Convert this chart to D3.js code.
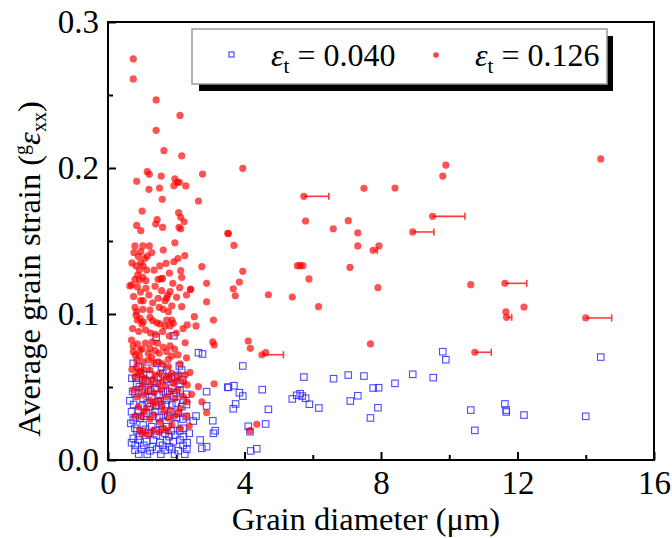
<!DOCTYPE html>
<html><head><meta charset="utf-8">
<script src="https://cdn.jsdelivr.net/npm/d3@7"></script>
<style>body{margin:0;background:#fff;} svg{display:block;}</style>
</head><body>
<svg id="chart" width="672" height="538"></svg>
<script>
// ---- data ----
const xTicks = [0, 4, 8, 12, 16];
const yTicks = [0.0, 0.1, 0.2, 0.3];
const legendLabels = ["0.040", "0.126"];

const bluePoints = [
 [3.95,.0644],[3.53,.0498],[3.69,.0509],[3.85,.0461],[3.95,.0438],[4.52,.0482],[3.74,.0384],[3.67,.0351],[4.70,.0347],
 [4.62,.0247],[4.11,.0231],[4.16,.0194],[4.18,.0062],[4.36,.0077],[5.74,.0568],[5.40,.0418],[5.53,.0443],[5.63,.0454],
 [5.69,.0438],[5.79,.0423],[5.90,.0382],[6.18,.0356],[6.61,.0557],[7.04,.0582],[7.50,.0575],[7.10,.0404],[7.32,.0440],
 [7.77,.0493],[7.93,.0495],[7.91,.0358],[7.69,.0288],[8.41,.0525],[8.93,.0587],[9.53,.0564],[9.81,.0742],[9.90,.0687],
 [10.63,.0342],[10.75,.0203],[11.63,.0384],[11.67,.0342],[11.67,.0329],[12.19,.0308],[14.0,.0299],[14.44,.0705],
 [1.41,.084],[1.93,.0851],[2.65,.0735],[2.77,.0726],[.74,.0662],[.89,.0639],[1.13,.0628],[1.43,.0662],[1.57,.0639],[1.72,.0616],
 [2.09,.0644],[2.16,.0616],[.82,.056],[1.02,.0548],[1.23,.0582],[1.47,.0566],[1.72,.0553],[1.96,.0571],[2.19,.0548],[3.51,.0498],
 [.92,.0502],[1.18,.0479],[1.38,.0491],[1.62,.0468],[1.87,.0491],[2.11,.0475],[2.89,.0468],
 [.64,.0406],[.79,.0457],[1.03,.0423],[1.28,.0434],[1.47,.0399],[1.72,.0411],[1.93,.0434],[2.21,.0411],[2.89,.037],
 [.69,.0331],[.89,.0342],[1.13,.032],[1.38,.0331],[1.62,.0308],[1.84,.0331],[2.06,.032],[2.29,.0297],
 [2.58,.0301],[2.50,.0267],[3.07,.0269],[.67,.0251],[.79,.0217],[1.03,.024],[1.28,.0228],[1.52,.0251],[1.72,.0228],[1.96,.0247],[2.21,.0217],
 [3.14,.0201],[3.09,.0183],[2.70,.0137],[2.75,.008],[2.89,.0091],
 [.69,.0119],[.89,.0137],[1.13,.0126],[1.33,.0137],[1.52,.0119],[1.72,.0132],[1.91,.0126],[2.11,.0137],[2.32,.0119],
 [.79,.0068],[.99,.0073],[1.23,.0064],[1.43,.0073],[1.67,.0068],[1.87,.0073],[2.06,.0064],[2.31,.0073],
 [.74,.0148],[.92,.0164],[1.18,.0183],[1.42,.0171],[1.67,.0183],[1.79,.016],[1.96,.0171],[2.21,.016],[2.38,.0183],
 [.74,.0274],[.94,.0286],[1.23,.0365],[1.57,.0377],[1.87,.0377],[2.16,.0365],[.84,.0525],[1.43,.0525],[2.11,.0525],
 [.70,.0560],[.95,.0590],[1.10,.0540],[1.35,.0540],[1.60,.0590],[1.85,.0560],[2.05,.0580],
 [.72,.0470],[1.00,.0480],[1.25,.0470],[1.50,.0450],[1.75,.0470],[2.00,.0460],[2.30,.0450],
 [.75,.0380],[1.00,.0370],[1.15,.0390],[1.40,.0370],[1.70,.0380],[2.00,.0390],[2.30,.0380],
 [.80,.0290],[1.05,.0300],[1.30,.0300],[1.50,.0290],[1.75,.0300],[2.00,.0290],[2.20,.0280],
 [.85,.0200],[1.10,.0210],[1.40,.0200],[1.60,.0210],[1.85,.0200],[2.10,.0200],
 [.80,.0100],[1.05,.0100],[1.30,.0090],[1.60,.0100],[1.80,.0090],[2.20,.0100],
 [.90,.0040],[1.15,.0040],[1.55,.0040],[1.95,.0040],[2.25,.0040]
];

const redPoints = [
 [.74,.2747],[.74,.261],[1.41,.2466],[2.11,.236],[1.41,.2258],[1.64,.2119],[2.16,.2084],[1.15,.1975],[1.21,.1957],[1.56,.1945],
 [2.77,.1959],[.84,.1909],[1.96,.1925],[2.03,.1902],[2.09,.1902],[1.93,.1879],[2.28,.1877],[1.20,.1854],[1.51,.1863],[1.59,.1786],
 [2.65,.1774],[1.00,.1705],[2.07,.1694],[2.13,.1662],[2.23,.1632],[.84,.1607],[1.44,.1646],[1.40,.1616],[1.60,.1594],[.96,.1571],
 [2.08,.1594],[2.13,.1584],[3.51,.1553],
 [.79,.1466],[1.02,.1466],[1.21,.1466],[1.96,.1488],[.76,.142],[.96,.1427],[.89,.1393],[1.15,.1397],[1.62,.1438],
 [.96,.1351],[1.03,.1329],[1.13,.1301],[.92,.1301],[1.70,.1347],[1.93,.1358],[2.13,.1297],[2.75,.1324],
 [.87,.1267],[1.02,.1251],[.79,.1238],[1.11,.1228],[.92,.1233],[1.47,.1238],[1.60,.1244],[1.90,.121],[2.16,.1251],[2.89,.121],
 [.69,.1199],[.64,.1192],[.86,.1187],[1.11,.1176],[1.57,.116],[1.75,.113],[1.72,.1108],[1.67,.1091],[1.82,.1153],[2.01,.1114],
 [2.42,.1169],[2.42,.1169],[2.89,.1084],[1.03,.1091],[.96,.1091],[1.31,.1077],[1.47,.1108],
 [.79,.1046],[.84,.1016],[1.02,.1032],[1.23,.1027],[1.50,.1046],[1.62,.1032],[1.77,.1016],[1.87,.1055],[2.16,.105],
 [.82,.0993],[.94,.0971],[1.03,.0947],[.86,.0959],[.99,.0932],[1.23,.0977],[1.31,.0954],[1.43,.094],[1.52,.0932],[1.67,.0918],
 [1.82,.0918],[1.91,.0936],[2.53,.0982],[2.32,.0925],[2.58,.0918],[3.09,.0959],[1.72,.0959],[1.87,.0959],
 [.69,.0822],[.74,.0781],[.86,.0795],[.94,.0753],[.92,.0712],[.74,.0742],[.84,.0685],
 [1.23,.0765],[1.38,.0749],[1.50,.0731],[1.18,.0731],[1.28,.0703],[1.62,.0772],[1.82,.0781],[1.72,.0742],[1.87,.0712],[1.77,.069],
 [2.26,.0803],[3.07,.081],[3.11,.0788],
 [1.02,.0673],[1.18,.0685],[1.35,.0662],[1.47,.0673],[1.60,.0658],[1.77,.0639],[2.11,.0658],
 [.84,.0639],[.94,.0605],[.79,.0571],[.99,.0571],
 [1.23,.0616],[1.38,.0582],[1.52,.0594],[1.72,.0571],[1.87,.0594],[2.06,.0575],[2.26,.0582],
 [1.03,.0525],[1.23,.0514],[1.47,.0521],[1.67,.0507],[1.91,.0525],[2.21,.0536],[2.32,.0514],[2.65,.0502],[3.11,.0521],
 [.84,.0434],[1.03,.0445],[1.23,.0411],[1.38,.0399],[1.52,.0411],[1.72,.0434],[1.96,.0422],[2.21,.0434],[2.32,.0399],[2.75,.0399],
 [.89,.0365],[1.13,.0354],[1.33,.0377],[1.57,.0365],[1.82,.0342],[2.11,.0354],[2.89,.0324],
 [.99,.0297],[1.23,.0279],[1.52,.0262],[1.77,.0286],[2.06,.032],
 [.92,.0205],[1.08,.0194],[1.33,.0205],[1.62,.0217],[1.87,.024],[2.11,.0217],[2.38,.0233],
 [.70,.1350],[.82,.1330],[1.08,.1380],[1.28,.1420],[1.35,.1300],[1.52,.1330],[1.80,.1280],[2.25,.1400],[2.05,.1380],
 [.75,.1120],[.95,.1150],[1.20,.1130],[1.38,.1190],[1.55,.1240],[2.10,.1180],[2.30,.1130],
 [.72,.0900],[.90,.0880],[1.10,.0890],[1.25,.0870],[1.40,.0860],[1.60,.0880],[1.80,.0850],[2.00,.0870],[2.20,.0900],
 [.80,.0720],[1.00,.0760],[1.10,.0800],[1.30,.0810],[1.45,.0800],[1.95,.0760],[2.05,.0720],[2.30,.0700],
 [.70,.0620],[.88,.0600],[1.05,.0620],[1.10,.0560],[1.30,.0550],[1.60,.0540],[1.80,.0560],[2.00,.0540],[2.40,.0600],
 [.75,.0480],[.95,.0490],[1.15,.0470],[1.35,.0460],[1.55,.0480],[1.85,.0470],[2.05,.0480],[2.45,.0450],
 [.80,.0300],[1.05,.0330],[1.35,.0310],[1.65,.0330],[1.95,.0300],[2.30,.0300],
 [1.0,.0180],[1.2,.0170],[1.5,.0190],[1.75,.0200],
 [3.95,.1998],[7.50,.1861],[8.41,.1863],[5.79,.1637],[7.04,.1639],[6.60,.1584],[3.53,.155],[7.32,.1555],[3.69,.147],[7.32,.1466],
 [7.94,.1466],[3.95,.1292],[3.85,.1219],[3.67,.1173],[3.73,.1125],[4.70,.1132],[5.40,.1116],[5.55,.1331],[5.63,.1331],[5.71,.1331],
 [5.89,.124],[6.17,.105],[7.09,.132],[7.91,.118],[7.69,.0795],[4.11,.0815],[4.17,.0765],[4.62,.0735],[4.36,.0245],[4.16,.0201],
 [9.90,.202],[9.81,.1945],[14.44,.2062],[10.63,.1201],[12.19,.1048],[11.66,.1014]
];

// points carrying a horizontal error bar: [x, y, +err]
const errorBars = [
 [5.74,.1806,.73],[7.77,.1436,.12],[8.93,.1562,.62],[9.51,.1669,.95],[4.51,.0721,.63],
 [11.63,.121,.64],[11.68,.0977,.15],[14.0,.0973,.76],[10.75,.0738,.48]
];

// ---- drawing ----
const svg = d3.select("#chart");
const m = {left:108, right:654, top:22, bottom:460};
const x = d3.scaleLinear().domain([0,16]).range([m.left, m.right]);
const y = d3.scaleLinear().domain([0,0.3]).range([m.bottom, m.top]);
const serif = "'Liberation Serif','Times New Roman',serif";

// axes (ticks inward)
const xAxis = d3.axisBottom(x).tickValues(xTicks).tickSize(-8).tickPadding(11).tickFormat(d3.format("d"));
const xMinor = d3.axisBottom(x).tickValues([2,6,10,14]).tickSize(-5).tickFormat("");
const yAxis = d3.axisLeft(y).tickValues(yTicks).tickSize(-8).tickPadding(9).tickFormat(d3.format(".1f"));
const yMinor = d3.axisLeft(y).tickValues([0.05,0.15,0.25]).tickSize(-5).tickFormat("");

const gx = svg.append("g").attr("transform",`translate(0,${m.bottom})`).call(xAxis);
svg.append("g").attr("transform",`translate(0,${m.bottom})`).call(xMinor);
const gy = svg.append("g").attr("transform",`translate(${m.left},0)`).call(yAxis);
svg.append("g").attr("transform",`translate(${m.left},0)`).call(yMinor);
svg.selectAll(".domain").remove();
svg.selectAll(".tick line").attr("stroke","#000").attr("stroke-width",2);
svg.selectAll(".tick text").attr("font-family",serif).attr("font-size",33).attr("fill","#000");
gx.selectAll(".tick text").attr("dy","0.71em");

// frame
svg.append("rect").attr("x",m.left).attr("y",m.top)
  .attr("width",m.right-m.left).attr("height",m.bottom-m.top)
  .attr("fill","none").attr("stroke","#000").attr("stroke-width",2);

// blue open squares
const sq = 6.5;
svg.append("g").selectAll("rect").data(bluePoints).join("rect")
  .attr("x",d=>x(d[0])-sq/2).attr("y",d=>y(d[1])-sq/2)
  .attr("width",sq).attr("height",sq)
  .attr("fill","none").attr("stroke","#2b2bff").attr("stroke-opacity",0.85).attr("stroke-width",1.1);

// error bars
const eg = svg.append("g").attr("stroke","#ff3a3a").attr("stroke-width",1.6);
eg.selectAll("line.h").data(errorBars).join("line").attr("class","h")
  .attr("x1",d=>x(d[0])).attr("x2",d=>x(d[0]+d[2])).attr("y1",d=>y(d[1])).attr("y2",d=>y(d[1]));
eg.selectAll("line.c").data(errorBars).join("line").attr("class","c")
  .attr("x1",d=>x(d[0]+d[2])).attr("x2",d=>x(d[0]+d[2])).attr("y1",d=>y(d[1])-3.5).attr("y2",d=>y(d[1])+3.5);

// red filled circles
svg.append("g").selectAll("circle").data(redPoints.concat(errorBars.map(d=>[d[0],d[1]]))).join("circle")
  .attr("cx",d=>x(d[0])).attr("cy",d=>y(d[1])).attr("r",3.6)
  .attr("fill","#ff0000").attr("fill-opacity",0.68);

// legend
const lg = svg.append("g");
lg.append("rect").attr("x",199).attr("y",36).attr("width",414).attr("height",55).attr("fill","#000");
lg.append("rect").attr("x",192).attr("y",29).attr("width",415).attr("height",55)
  .attr("fill","#fff").attr("stroke","#9a9a9a").attr("stroke-width",1.5);
lg.append("rect").attr("x",229).attr("y",52).attr("width",5).attr("height",5)
  .attr("fill","none").attr("stroke","#2b2bff").attr("stroke-width",1);
lg.append("circle").attr("cx",436).attr("cy",55).attr("r",2.8).attr("fill","#ff0000").attr("fill-opacity",0.75);
function legText(xp, val){
  const t = lg.append("text").attr("x",xp).attr("y",66).attr("font-family",serif).attr("font-size",32).attr("fill","#000");
  t.append("tspan").attr("font-style","italic").text("ε");
  t.append("tspan").attr("font-size",21).attr("dy",7).text("t");
  t.append("tspan").attr("dy",-7).text(" = " + val);
}
legText(271, legendLabels[0]);
legText(475, legendLabels[1]);

// axis titles
svg.append("text").attr("x",(m.left+m.right)/2-15).attr("y",530).attr("text-anchor","middle")
  .attr("font-family",serif).attr("font-size",32.5).attr("fill","#000").text("Grain diameter (μm)");

const yt = svg.append("text").attr("transform",`translate(40,${(m.top+m.bottom)/2+28}) rotate(-90)`)
  .attr("text-anchor","middle").attr("font-family",serif).attr("font-size",32.5).attr("fill","#000");
yt.append("tspan").text("Average grain strain (");
yt.append("tspan").attr("font-size",20).attr("dy",-12).text("g");
yt.append("tspan").attr("font-style","italic").attr("dy",12).text("ε");
yt.append("tspan").attr("font-size",20).attr("dy",6).text("xx");
yt.append("tspan").attr("dy",-6).text(")");
</script>
</body></html>
